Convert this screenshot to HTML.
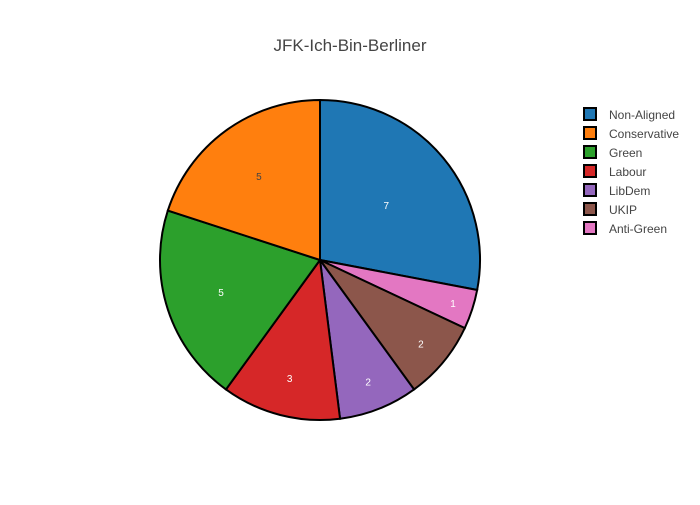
<!DOCTYPE html>
<html><head><meta charset="utf-8"><style>
body{margin:0;background:#fff;font-family:"Liberation Sans",sans-serif}
</style></head><body>
<svg id="chart" width="700" height="500">
<text x="350" y="51" text-anchor="middle" font-size="17" fill="#444">JFK-Ich-Bin-Berliner</text>
<g id="slices"></g><g id="legend"></g>
</svg>
<script>
const labels=["Non-Aligned","Anti-Green","UKIP","LibDem","Labour","Green","Conservative"];
const values=[7,1,2,2,3,5,5];
const colors=["#1f77b4","#e377c2","#8c564b","#9467bd","#d62728","#2ca02c","#ff7f0e"];
const legendOrder=["Non-Aligned","Conservative","Green","Labour","LibDem","UKIP","Anti-Green"];
const NS="http://www.w3.org/2000/svg";
const cx=320,cy=260,r=160;
const total=values.reduce((a,b)=>a+b,0);
const g=document.getElementById('slices');
let a=0;
function pt(ang,rad){return [cx+rad*Math.sin(ang),cy-rad*Math.cos(ang)];}
values.forEach((v,i)=>{
  const a0=a,a1=a+v/total*2*Math.PI;a=a1;
  const p0=pt(a0,r),p1=pt(a1,r);
  const large=(a1-a0)>Math.PI?1:0;
  const p=document.createElementNS(NS,'path');
  p.setAttribute('d',`M${cx},${cy}L${p0[0]},${p0[1]}A${r},${r} 0 ${large} 1 ${p1[0]},${p1[1]}Z`);
  p.setAttribute('fill',colors[i]);p.setAttribute('stroke','#000');p.setAttribute('stroke-width','2');
  
  
  g.appendChild(p);
  const frac=v/total;
  const m=pt((a0+a1)/2,r*(0.93-1.4*frac));
  const t=document.createElementNS(NS,'text');
  t.setAttribute('x',m[0]);t.setAttribute('y',m[1]+4);t.setAttribute('text-anchor','middle');
  t.setAttribute('font-size','10');
  t.setAttribute('fill',labels[i]==="Conservative"?'#444':'#fff');
  t.textContent=v;
  
  
  g.appendChild(t);
});
const lg=document.getElementById('legend');
legendOrder.forEach((n,k)=>{
  const i=labels.indexOf(n);
  const y=114+k*19;
  const e=document.createElementNS(NS,'g');
  
  
  const rc=document.createElementNS(NS,'rect');
  rc.setAttribute('x',584);rc.setAttribute('y',y-6);rc.setAttribute('width',12);rc.setAttribute('height',12);
  rc.setAttribute('fill',colors[i]);rc.setAttribute('stroke','#000');rc.setAttribute('stroke-width','2');
  e.appendChild(rc);
  const t=document.createElementNS(NS,'text');
  t.setAttribute('x',609);t.setAttribute('y',y+5);t.setAttribute('font-size','12');t.setAttribute('fill','#444');
  t.textContent=n;e.appendChild(t);
  lg.appendChild(e);
});
</script>
</body></html>
